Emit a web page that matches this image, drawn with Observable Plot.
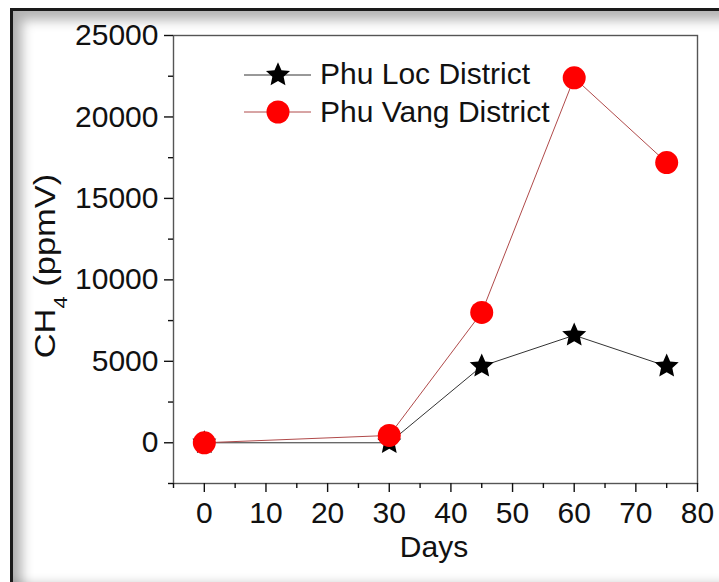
<!DOCTYPE html>
<html>
<head>
<meta charset="utf-8">
<script src="https://cdn.jsdelivr.net/npm/d3@7"></script>
<script src="https://cdn.jsdelivr.net/npm/@observablehq/plot@0.6"></script>
<style>
  html, body { margin: 0; padding: 0; background: #fff; overflow: hidden; }
  #wrap { position: relative; width: 719px; height: 582px; }
  #frame {
    position: absolute; left: 10px; top: 8px; width: 720px; height: 580px;
    border-top: 3px solid #1a1a1a; border-left: 3px solid #1a1a1a;
    box-shadow: inset 9px 9px 12px rgba(0,0,0,0.30), inset 0 -10px 10px -4px rgba(0,0,0,0.18);
    pointer-events: none; box-sizing: border-box;
  }
</style>
</head>
<body>
<div id="wrap"><div id="chart"></div><div id="frame"></div></div>
<script>
const days = [0, 30, 45, 60, 75];
const phuLoc = [0, 0, 4700, 6600, 4700];
const phuVang = [0, 450, 8000, 22400, 17200];
const seriesNames = ["Phu Loc District", "Phu Vang District"];
const xTicks = [0, 10, 20, 30, 40, 50, 60, 70, 80];
const xMinorTicks = [-5, 5, 15, 25, 35, 45, 55, 65, 75];
const yTicks = [0, 5000, 10000, 15000, 20000, 25000];
const yMinorTicks = [-2500, 2500, 7500, 12500, 17500, 22500];
const xLabel = "Days";

const locData = days.map((d, i) => ({day: d, value: phuLoc[i]}));
const vangData = days.map((d, i) => ({day: d, value: phuVang[i]}));

// a fuller five-pointed star, like the reference
const fatStar = {
  draw(context, size) {
    const R = Math.sqrt(size / Math.PI) * 1.62, r = R * 0.47;
    for (let i = 0; i < 10; ++i) {
      const a = -Math.PI / 2 + i * Math.PI / 5, rr = i % 2 ? r : R;
      const x = rr * Math.cos(a), y = rr * Math.sin(a);
      i ? context.lineTo(x, y) : context.moveTo(x, y);
    }
    context.closePath();
  }
};

const font = "'Liberation Sans', Arial, sans-serif";
const fs = 30;
const starR = 7.8, circR = 11.5;
const chart = Plot.plot({
  width: 719, height: 582,
  marginLeft: 173, marginRight: 22, marginTop: 35, marginBottom: 99,
  style: {fontFamily: font, fontSize: fs + "px", color: "#111", background: "transparent"},
  x: {domain: [-5, 80]},
  y: {domain: [-2500, 25000]},
  marks: [
    Plot.frame({stroke: "#555", strokeWidth: 1.4}),
    Plot.axisY(yMinorTicks, {tickSize: 5, strokeWidth: 1.4, tickFormat: () => "", label: null}),
    Plot.axisY(yTicks, {tickSize: 9, tickPadding: 6, strokeWidth: 1.4, tickFormat: d3.format("d"), label: null}),
    Plot.axisX(xMinorTicks, {tickSize: 5, strokeWidth: 1.4, tickFormat: () => "", label: null}),
    Plot.axisX(xTicks, {tickSize: 9, tickPadding: 9, strokeWidth: 1.4, tickFormat: d3.format("d"), label: null}),
    Plot.line(locData, {x: "day", y: "value", stroke: "#333", strokeWidth: 1}),
    Plot.dot(locData, {x: "day", y: "value", symbol: fatStar, r: starR, fill: "#000", stroke: "none"}),
    Plot.line(vangData, {x: "day", y: "value", stroke: "#b04a4a", strokeWidth: 1}),
    Plot.dot(vangData, {x: "day", y: "value", r: circR, fill: "#f00", stroke: "none"})
  ]
});
document.getElementById("chart").appendChild(chart);

const svg = d3.select(chart);
// x axis label
svg.append("text").attr("x", 434).attr("y", 557).attr("text-anchor", "middle")
  .attr("font-family", font).attr("font-size", fs).attr("fill", "#111").text(xLabel);
// y axis label with subscript
const yl = svg.append("text").attr("transform", "translate(55,266) rotate(-90) scale(1.15,1)")
  .attr("text-anchor", "middle").attr("font-family", font).attr("font-size", fs).attr("fill", "#111");
yl.append("tspan").text("CH");
yl.append("tspan").attr("font-size", 19).attr("dy", 12).text("4");
yl.append("tspan").attr("dy", -12).text(" (ppmV)");

// legend
const leg = svg.append("g").attr("font-family", font).attr("font-size", fs).attr("fill", "#111").attr("text-anchor", "start");
const rows = [
  {name: seriesNames[0], y: 75, line: "#333", sym: fatStar, size: Math.PI * starR * starR, fill: "#000", ty: 84},
  {name: seriesNames[1], y: 112, line: "#b04a4a", sym: d3.symbolCircle, size: Math.PI * circR * circR, fill: "#f00", ty: 122}
];
rows.forEach(r => {
  leg.append("line").attr("x1", 244).attr("x2", 311).attr("y1", r.y).attr("y2", r.y)
    .attr("stroke", r.line).attr("stroke-width", 1);
  leg.append("path").attr("d", d3.symbol(r.sym, r.size)()).attr("transform", `translate(278,${r.y})`).attr("fill", r.fill);
  leg.append("text").attr("x", 320).attr("y", r.ty).attr("text-anchor", "start").text(r.name);
});
</script>
</body>
</html>
